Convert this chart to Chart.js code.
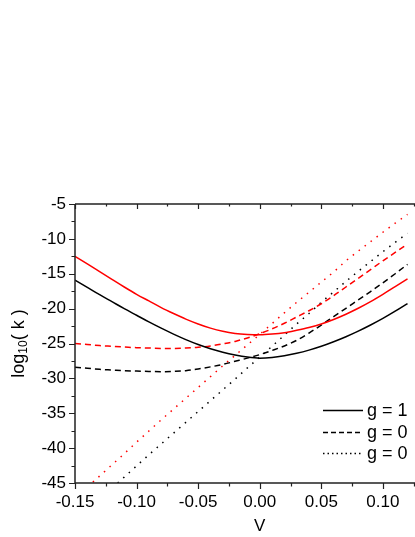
<!DOCTYPE html>
<html>
<head>
<meta charset="utf-8">
<script src="https://cdn.jsdelivr.net/npm/chart.js@4"></script>
<style>
  html, body { margin: 0; padding: 0; background: #fff; overflow: hidden; }
  #wrap { width: 415px; height: 537px; overflow: hidden; }
  canvas { display: block; }
</style>
</head>
<body>
<div id="wrap"><canvas id="chart" width="470" height="537"></canvas></div>
<script>
// V values (x axis)
const V = [-0.15, -0.14, -0.13, -0.12, -0.11, -0.10, -0.09, -0.08, -0.07, -0.06,
  -0.05, -0.04, -0.03, -0.02, -0.01, 0.00, 0.01, 0.02, 0.03, 0.04,
  0.05, 0.06, 0.07, 0.08, 0.09, 0.10, 0.11, 0.12];

// g = 1 (solid)
const solidBlack = [-15.9, -16.95, -18.0, -19.0, -20.0, -20.95, -21.9, -22.8, -23.65, -24.45,
  -25.15, -25.75, -26.25, -26.65, -26.95, -27.1, -27.0, -26.75, -26.4, -25.95,
  -25.4, -24.75, -24.03, -23.23, -22.35, -21.4, -20.37, -19.27];
const solidRed = [-12.5, -13.6, -14.7, -15.8, -16.9, -17.95, -18.9, -19.85, -20.7, -21.5,
  -22.2, -22.8, -23.25, -23.55, -23.7, -23.75, -23.65, -23.45, -23.1, -22.7,
  -22.2, -21.55, -20.8, -19.95, -19.0, -17.95, -16.85, -15.75];

// dashed
const dashBlack = [-28.4, -28.55, -28.7, -28.8, -28.9, -28.95, -29.0, -29.05, -29.0, -28.9,
  -28.65, -28.35, -28.0, -27.55, -27.1, -26.6, -26.0, -25.35, -24.55, -23.5,
  -22.35, -21.15, -19.95, -18.75, -17.55, -16.3, -15.0, -13.65];
const dashRed = [-25.0, -25.15, -25.3, -25.4, -25.5, -25.6, -25.65, -25.7, -25.7, -25.65,
  -25.55, -25.35, -25.05, -24.7, -24.2, -23.6, -22.9, -22.1, -21.2, -20.3,
  -19.3, -18.15, -16.9, -15.65, -14.4, -13.15, -11.95, -10.75];

// dotted
const dotBlack = [null, null, null, -45.7, -44.15, -42.55, -40.95, -39.4, -37.85, -36.3,
  -34.75, -33.2, -31.65, -30.1, -28.5, -26.95, -25.4, -23.8, -22.2, -20.7,
  -19.1, -17.6, -16.1, -14.65, -13.25, -11.85, -10.5, -9.2];
const dotRed = [null, -45.6, -44.0, -42.4, -40.8, -39.15, -37.55, -35.95, -34.4, -32.85,
  -31.3, -29.75, -28.2, -26.7, -25.2, -23.7, -22.15, -20.6, -19.1, -17.65,
  -16.2, -14.75, -13.15, -11.75, -10.4, -9.05, -7.75, -6.5];

const xTicks = [-0.15, -0.10, -0.05, 0.00, 0.05, 0.10, 0.15];
const yTicks = [-45, -40, -35, -30, -25, -20, -15, -10, -5];
const legendLabels = ["g = 1", "g = 0", "g = 0"];

const FONT = "Liberation Sans, Arial, sans-serif";

function pts(ys) {
  return V.map((x, i) => ({ x: x, y: ys[i] }));
}

function series(ys, color, dash) {
  return {
    data: pts(ys),
    borderColor: color,
    borderWidth: 1.5,
    borderDash: dash,
    pointRadius: 0,
    cubicInterpolationMode: "monotone",
    fill: false,
    clip: 0
  };
}

// frame with Origin-style ticks, y title and legend
const framePlugin = {
  id: "frame",
  afterDraw(chart) {
    const ctx = chart.ctx;
    const a = chart.chartArea;
    const xs = chart.scales.x, ys = chart.scales.y;
    ctx.save();
    ctx.strokeStyle = "#222";
    ctx.lineWidth = 1.5;
    ctx.beginPath();
    ctx.moveTo(a.left, a.top); ctx.lineTo(a.right, a.top);
    ctx.moveTo(a.left, a.bottom); ctx.lineTo(a.right, a.bottom);
    ctx.moveTo(a.left, a.top); ctx.lineTo(a.left, a.bottom);
    ctx.moveTo(a.right, a.top); ctx.lineTo(a.right, a.bottom);
    ctx.stroke();
    ctx.lineWidth = 1.2;
    ctx.beginPath();
    for (let k = 0; k <= 12; k++) {
      const v = -0.15 + k * 0.025;
      const px = Math.round(xs.getPixelForValue(v)) + 0.5;
      const major = k % 2 === 0;
      ctx.moveTo(px, a.bottom); ctx.lineTo(px, a.bottom + (major ? 6 : 3.5));
      ctx.moveTo(px, a.top); ctx.lineTo(px, a.top + (major ? 5 : 2.5));
    }
    for (let k = 0; k <= 16; k++) {
      const v = -45 + k * 2.5;
      const py = Math.round(ys.getPixelForValue(v)) + 0.5;
      const major = k % 2 === 0;
      ctx.moveTo(a.left, py); ctx.lineTo(a.left - (major ? 6 : 3.5), py);
    }
    ctx.stroke();

    // y title log10( k )
    ctx.fillStyle = "#000";
    ctx.textBaseline = "middle";
    ctx.textAlign = "left";
    const big = "18px " + FONT, small = "12px " + FONT;
    ctx.font = big; const w1 = ctx.measureText("log").width;
    ctx.font = small; const w2 = ctx.measureText("10").width;
    ctx.font = big; const w3 = ctx.measureText("( k )").width;
    const total = w1 + w2 + w3;
    ctx.translate(19, (a.top + a.bottom) / 2);
    ctx.rotate(-Math.PI / 2);
    let x0 = -total / 2;
    ctx.font = big; ctx.fillText("log", x0, 0);
    ctx.font = small; ctx.fillText("10", x0 + w1, 5);
    ctx.font = big; ctx.fillText("( k )", x0 + w1 + w2, 0);
    ctx.restore();

    // legend
    ctx.save();
    const rows = [410, 432, 453];
    const dashes = [[], [5, 3], [1.5, 3]];
    ctx.strokeStyle = "#000";
    ctx.fillStyle = "#000";
    ctx.lineWidth = 1.3;
    ctx.font = "18px " + FONT;
    ctx.textBaseline = "middle";
    rows.forEach((y, i) => {
      ctx.setLineDash(dashes[i]);
      ctx.beginPath();
      ctx.moveTo(323, y + 0.5); ctx.lineTo(363, y + 0.5);
      ctx.stroke();
      ctx.fillText(legendLabels[i], 367, y + 1);
    });
    ctx.restore();
  }
};

new Chart(document.getElementById("chart"), {
  type: "line",
  data: {
    datasets: [
      series(solidBlack, "#000", []),
      series(solidRed, "#ff0000", []),
      series(dashBlack, "#000", [6, 4]),
      series(dashRed, "#ff0000", [6, 4]),
      series(dotBlack, "#000", [1.5, 6]),
      series(dotRed, "#ff0000", [1.5, 6])
    ]
  },
  options: {
    responsive: false,
    animation: false,
    devicePixelRatio: 1,
    layout: { padding: { top: 204, left: 0, right: 17, bottom: 0 } },
    plugins: { legend: { display: false }, tooltip: { enabled: false } },
    scales: {
      x: {
        type: "linear",
        min: -0.15,
        max: 0.15,
        afterBuildTicks(s) { s.ticks = xTicks.map(v => ({ value: v })); },
        afterFit(s) { s.height = 54; },
        grid: { display: false, drawTicks: false },
        border: { display: false },
        ticks: {
          padding: 9,
          color: "#000",
          font: { family: FONT, size: 17 },
          maxRotation: 0,
          callback: v => v.toFixed(2)
        },
        title: {
          display: true,
          text: "V",
          color: "#000",
          font: { family: FONT, size: 17 },
          padding: { top: 2, bottom: 0 }
        }
      },
      y: {
        min: -45,
        max: -5,
        afterBuildTicks(s) { s.ticks = yTicks.map(v => ({ value: v })); },
        afterFit(s) { s.width = 75; },
        grid: { display: false, drawTicks: false },
        border: { display: false },
        ticks: {
          padding: 9,
          color: "#000",
          font: { family: FONT, size: 17 }
        }
      }
    }
  },
  plugins: [framePlugin]
});
</script>
</body>
</html>
